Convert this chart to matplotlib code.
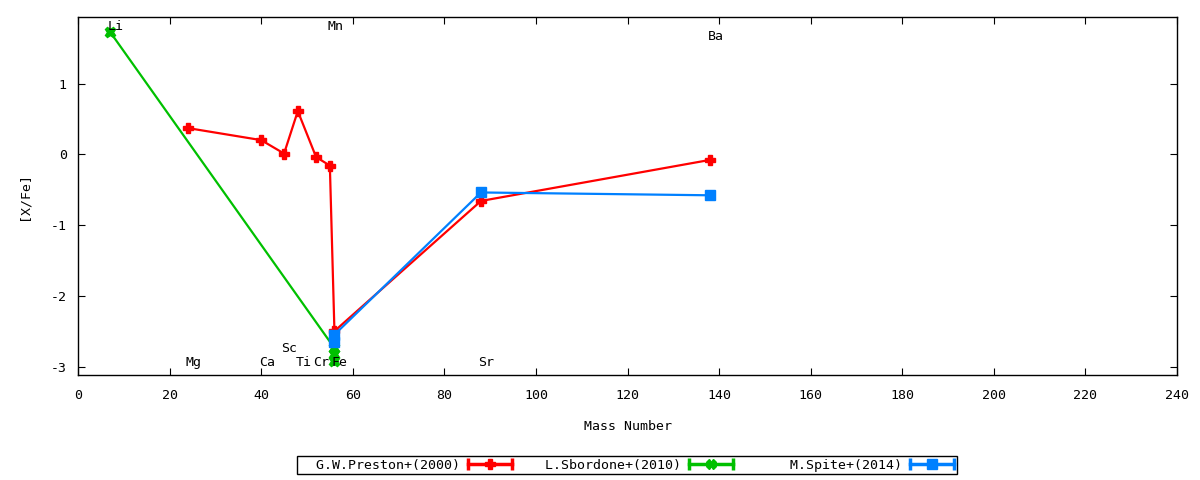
import matplotlib
matplotlib.use("Agg")
import matplotlib.pyplot as plt
from matplotlib.lines import Line2D
from matplotlib.legend_handler import HandlerBase

plt.rcParams['font.family'] = ['DejaVu Sans Mono']
plt.rcParams['font.size'] = 9.5
plt.rcParams['axes.unicode_minus'] = False

# Data
preston_mass = [24, 40, 45, 48, 52, 55, 56, 88, 138]
preston_xfe = [0.37, 0.20, 0.01, 0.61, -0.04, -0.16, -2.50, -0.66, -0.08]

sbordone_mass = [7, 56, 56, 56]
sbordone_xfe = [1.73, -2.74, -2.83, -2.92]

spite_mass = [56, 56, 88, 138]
spite_xfe = [-2.65, -2.55, -0.54, -0.58]

elements = ['Li', 'Mg', 'Ca', 'Sc', 'Ti', 'Cr', 'Mn', 'Fe', 'Sr', 'Ba']
element_mass = [7, 24, 40, 45, 48, 52, 55, 56, 88, 138]
label_y = [1.80, -2.95, -2.95, -2.75, -2.95, -2.95, 1.80, -2.95, -2.95, 1.66]

series_names = ['G.W.Preston+(2000)', 'L.Sbordone+(2010)', 'M.Spite+(2014)']
colors = ['#ff0000', '#00c000', '#0080ff']
markers = ['P', 'X', 's']

fig = plt.figure(figsize=(12, 4.8), dpi=100)
ax = fig.add_axes([78/1200, 1-375/480, (1177-78)/1200, (375-17)/480])

data = [(preston_mass, preston_xfe), (sbordone_mass, sbordone_xfe), (spite_mass, spite_xfe)]
for (x, y), c, m in zip(data, colors, markers):
    ax.plot(x, y, color=c, lw=1.6, marker=m, ms=7.5, mec=c, mfc=c)

for el, mx, ly in zip(elements, element_mass, label_y):
    ax.text(mx + 1.2, ly, el, ha='center', va='center', fontsize=9.5)

ax.set_xlim(0, 240)
ax.set_ylim(-3.12, 1.94)
ax.set_xticks(range(0, 241, 20))
ax.set_yticks([-3, -2, -1, 0, 1])
ax.tick_params(direction='in', top=True, right=True, length=5, labelsize=9.5)
ax.tick_params(axis='x', pad=10)
ax.tick_params(axis='y', pad=8)
for s in ax.spines.values():
    s.set_linewidth(1.0)
ax.set_xlabel('Mass Number', fontsize=9.5, labelpad=13)
ax.set_ylabel('[X/Fe]', fontsize=9.5, labelpad=15)


class CapHandler(HandlerBase):
    def create_artists(self, legend, orig_handle, xdescent, ydescent, width, height, fontsize, trans):
        c = orig_handle.get_color()
        m = orig_handle.get_marker()
        y = height / 2 - ydescent
        x0 = -xdescent
        x1 = -xdescent + width
        line = Line2D([x0, x1], [y, y], color=c, lw=2.5, transform=trans)
        caps = Line2D([x0, x1], [y, y], color=c, lw=0, marker='|', ms=8, mew=2.5, transform=trans)
        mid = Line2D([(x0 + x1) / 2], [y], color=c, lw=0, marker=m, ms=7, mfc=c, mec=c, transform=trans)
        return [line, caps, mid]


handles = [Line2D([], [], color=c, marker=m) for c, m in zip(colors, markers)]
padded = [n.rjust(20) for n in series_names]
fs = 9.5
em = fs * 100 / 72
leg = fig.legend(handles, padded, loc='center', bbox_to_anchor=(627/1200, 1-465/480),
                 ncol=3, markerfirst=False, handler_map={Line2D: CapHandler()},
                 handlelength=44/em, columnspacing=9/em, handletextpad=8/em,
                 fancybox=False, edgecolor='black', framealpha=1, fontsize=fs,
                 borderpad=0.2, borderaxespad=0, handleheight=0.7)
leg.get_frame().set_linewidth(1.0)

fig.savefig('out.png', dpi=100)
